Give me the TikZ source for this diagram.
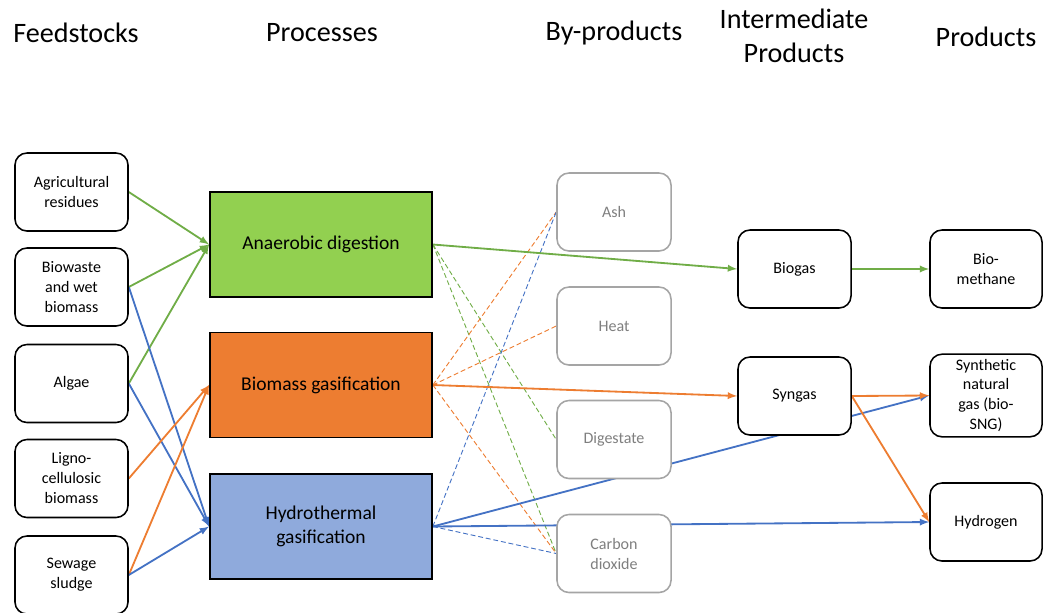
\documentclass[tikz,border=0pt]{standalone}
\usepackage{fontspec}
\setmainfont{Carlito}
\usetikzlibrary{backgrounds}
\definecolor{adgreen}{HTML}{92D050}
\definecolor{bgorange}{HTML}{ED7D31}
\definecolor{hgblue}{HTML}{8FAADC}
\definecolor{lgreen}{HTML}{70AD47}
\definecolor{lorange}{HTML}{ED7D31}
\definecolor{lblue}{HTML}{4472C4}
\definecolor{boxgray}{HTML}{A5A5A5}
\definecolor{txtgray}{HTML}{7F7F7F}
\tikzset{
  feedbox/.style={draw, fill=white, rounded corners=0.3cm, line width=1.1pt,
    minimum width=2.825cm, minimum height=1.95cm, align=center,
    font=\fontsize{11.4}{14.2}\selectfont},
  procbox/.style={draw, line width=1.2pt, minimum width=5.55cm,
    minimum height=2.625cm, align=center, font=\fontsize{13.9}{17}\selectfont},
  byprod/.style={feedbox, draw=boxgray, text=txtgray, minimum width=2.85cm},
  head/.style={align=center, font=\fontsize{20}{24}\selectfont},
  link/.style={line width=1.3pt, -latex},
  side/.style={line width=0.65pt, dash pattern=on 3.5pt off 2pt},
}
\begin{document}
\begin{tikzpicture}[x=0.025cm, y=-0.025cm]
    \useasboundingbox (0,0) rectangle (1044,612);
    %titoli
    \node[head] (hfeed) at (76,33) {Feedstocks};
    \node[head] (hproc) at (322,33) {Processes};
    \node[head] (hby) at (614,33) {By-products};
    \node[head] (hint) at (794,36) {Intermediate\\Products};
    \node[head] (hprod) at (986,37) {Products};
    %materie prime
    \node[feedbox] (agri) at (71.5,192) {Agricultural\\residues};
    \node[feedbox] (wet) at (71.5,287) {Biowaste\\and wet\\biomass};
    \node[feedbox] (alg) at (71.5,383.5) {Algae};
    \node[feedbox] (lig) at (71.5,478.5) {Ligno-\\cellulosic\\biomass};
    \node[feedbox] (sew) at (71.5,575) {Sewage\\sludge};
    %processi
    \node[procbox, fill=adgreen] (ad) at (321,244.5) {Anaerobic digestion};
    \node[procbox, fill=bgorange] (bg) at (321,385) {Biomass gasification};
    \node[procbox, fill=hgblue] (hg) at (321,526.5) {Hydrothermal\\gasification};
    %sottoprodotti
    \node[byprod] (ash) at (614,212) {Ash};
    \node[byprod] (heat) at (614,326) {Heat};
    \node[byprod] (dig) at (614,439.5) {Digestate};
    \node[byprod] (co2) at (614,553.5) {Carbon\\dioxide};
    %intermedi
    \node[feedbox] (biogas) at (794.5,269) {Biogas};
    \node[feedbox] (syngas) at (794.5,396) {Syngas};
    %prodotti
    \node[feedbox, minimum width=2.8cm] (ch4) at (986,269) {Bio-\\methane};
    \node[feedbox, minimum width=2.8cm, minimum height=1.925cm] (sng) at (986,395.5) {Synthetic\\natural\\gas (bio-\\SNG)};
    \node[feedbox, minimum width=2.8cm] (h2) at (986,522) {Hydrogen};
    \begin{scope}[on background layer]
        %frecce verso i processi
        \draw[link, lgreen] (agri.east) -- (ad.west);
        \draw[link, lgreen] (wet.east) -- (ad.west);
        \draw[link, lgreen] (alg.east) -- (ad.west);
        \draw[link, lblue] (wet.east) -- (hg.west);
        \draw[link, lblue] (alg.east) -- (hg.west);
        \draw[link, lorange] (lig.east) -- (bg.west);
        \draw[link, lorange] (sew.east) -- (bg.west);
        \draw[link, lblue] (sew.east) -- (hg.west);
        %sottoprodotti tratteggiati
        \draw[side, lgreen] (ad.east) -- (dig.west);
        \draw[side, lgreen] (ad.east) -- (co2.west);
        \draw[side, lorange] (bg.east) -- (ash.west);
        \draw[side, lorange] (bg.east) -- (heat.west);
        \draw[side, lorange] (bg.east) -- (co2.west);
        \draw[side, lblue] (hg.east) -- (ash.west);
        \draw[side, lblue] (hg.east) -- (co2.west);
        %frecce verso i prodotti
        \draw[link, lgreen] (ad.east) -- (biogas.west);
        \draw[link, lorange] (bg.east) -- (syngas.west);
        \draw[link, lblue] (hg.east) -- (sng.west);
        \draw[link, lblue] (hg.east) -- (h2.west);
        \draw[link, lgreen] (biogas.east) -- (ch4.west);
        \draw[link, lorange] (syngas.east) -- (sng.west);
        \draw[link, lorange] (syngas.east) -- (h2.west);
    \end{scope}
\end{tikzpicture}
\end{document}
